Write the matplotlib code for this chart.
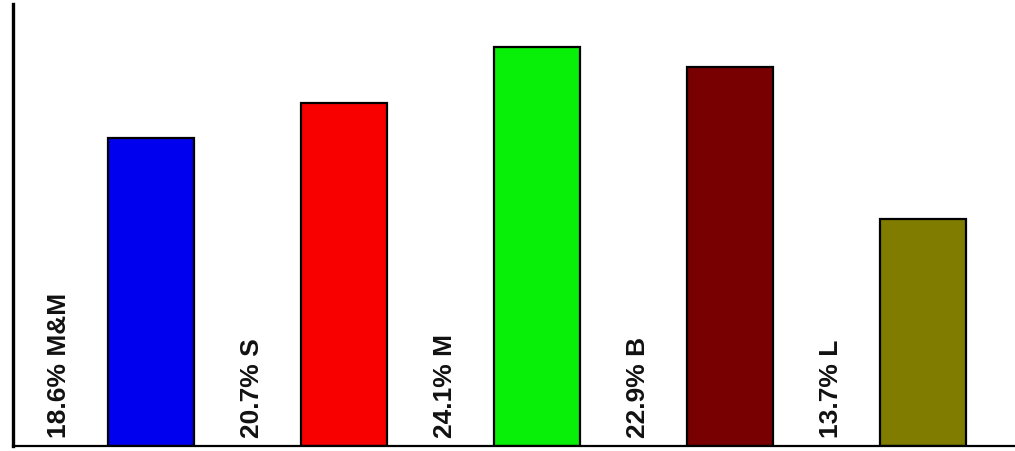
import matplotlib
matplotlib.use("Agg")
import matplotlib.pyplot as plt
import numpy as np

categories = ["M&M", "S", "M", "B", "L"]
percentages = [18.6, 20.7, 24.1, 22.9, 13.7]
labels = ["18.6% M&M", "20.7% S", "24.1% M", "22.9% B", "13.7% L"]
colors = ["#0000ee", "#f80000", "#08f008", "#780000", "#7f7c00"]

fig = plt.figure(figsize=(10.15, 4.52), dpi=100)
ax = fig.add_axes([13/1015, 5/452, 1002/1015, 442/452])

x = np.arange(len(categories))
ax.bar(x, percentages, width=0.445, color=colors, edgecolor="black", linewidth=1.6, zorder=2)

for xi, lab in zip(x, labels):
    ax.text(xi - 0.475, 0.55, lab, rotation=90, ha="center", va="bottom",
            fontsize=19, fontweight="bold", color="#111111",
            family=["Liberation Sans", "DejaVu Sans"])

ax.set_xlim(-0.715, 4.477)
ax.set_ylim(0, 26.7)
for s in ["top", "right"]:
    ax.spines[s].set_visible(False)
ax.spines["left"].set_linewidth(2.4)
ax.spines["bottom"].set_linewidth(1.6)
ax.set_xticks([])
ax.set_yticks([])

fig.savefig("out.png", dpi=100)
